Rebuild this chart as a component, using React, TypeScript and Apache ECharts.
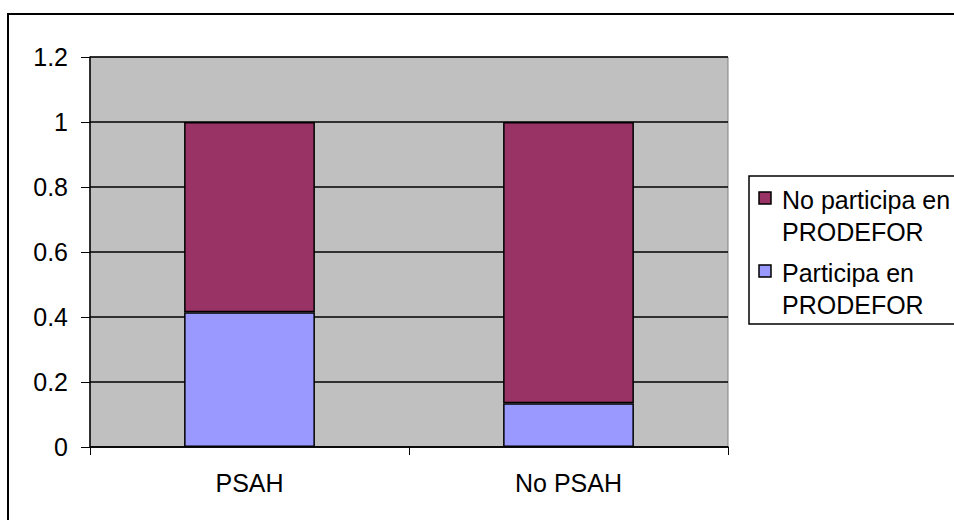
import React, { useEffect, useRef } from "react";
import * as echarts from "echarts";

const categories = ["PSAH", "No PSAH"];
const participa = [0.415, 0.135];
const noParticipa = [0.585, 0.865];
const seriesNames = ["Participa en PRODEFOR", "No participa en PRODEFOR"];
const legendLines = [["No participa en", "PRODEFOR"], ["Participa en", "PRODEFOR"]];
const colors = ["#9999FF", "#993366"];

export default function App() {
  const ref = useRef<HTMLDivElement>(null);
  useEffect(() => {
    const chart = echarts.init(ref.current!, null, { renderer: "svg" });
    const font = "Liberation Sans, Arial, sans-serif";
    const legendX = 749;
    const legendY = 176;
    chart.setOption({
      animation: false,
      backgroundColor: "#ffffff",
      grid: {
        left: 90,
        top: 57,
        right: 226,
        bottom: 73,
        show: true,
        backgroundColor: "#C0C0C0",
        borderColor: "#808080",
        borderWidth: 1,
      },
      xAxis: {
        type: "category",
        data: categories,
        axisLine: { lineStyle: { color: "#000", width: 1.5 } },
        axisTick: { show: true, length: 8, lineStyle: { color: "#000" } },
        axisLabel: { color: "#000", fontSize: 25, fontFamily: font, margin: 23 },
      },
      yAxis: {
        type: "value",
        min: 0,
        max: 1.2,
        interval: 0.2,
        axisLine: { show: true, lineStyle: { color: "#000", width: 1.5 } },
        axisTick: { show: true, length: 9, lineStyle: { color: "#000" } },
        axisLabel: { color: "#000", fontSize: 25, fontFamily: font, margin: 22 },
        splitLine: { show: true, lineStyle: { color: "#000", width: 1.5 } },
      },
      series: [
        {
          name: seriesNames[0],
          type: "bar",
          stack: "total",
          data: participa,
          barWidth: "41%",
          itemStyle: { color: colors[0], borderColor: "#000", borderWidth: 1.5 },
        },
        {
          name: seriesNames[1],
          type: "bar",
          stack: "total",
          data: noParticipa,
          barWidth: "41%",
          itemStyle: { color: colors[1], borderColor: "#000", borderWidth: 1.5 },
        },
      ],
      graphic: [
        {
          type: "rect",
          shape: { x: 8, y: 14, width: 1000, height: 600 },
          style: { fill: "none", stroke: "#000", lineWidth: 2 },
          silent: true,
        },
        {
          type: "rect",
          shape: { x: legendX, y: legendY, width: 300, height: 148 },
          style: { fill: "#fff", stroke: "#000", lineWidth: 1.5 },
        },
        {
          type: "rect",
          shape: { x: legendX + 10, y: legendY + 16, width: 12, height: 12 },
          style: { fill: colors[1], stroke: "#000", lineWidth: 1.5 },
        },
        {
          type: "text",
          x: legendX + 33,
          y: legendY + 8,
          style: {
            text: legendLines[0].join("\n"),
            font: `25px ${font}`,
            fill: "#000",
            lineHeight: 32,
          },
        },
        {
          type: "rect",
          shape: { x: legendX + 10, y: legendY + 89, width: 12, height: 12 },
          style: { fill: colors[0], stroke: "#000", lineWidth: 1.5 },
        },
        {
          type: "text",
          x: legendX + 33,
          y: legendY + 81,
          style: {
            text: legendLines[1].join("\n"),
            font: `25px ${font}`,
            fill: "#000",
            lineHeight: 32,
          },
        },
      ],
    });
    return () => chart.dispose();
  }, []);
  return (
    <div
      ref={ref}
      style={{ position: "fixed", left: 0, top: 0, width: 954, height: 520 }}
    />
  );
}
